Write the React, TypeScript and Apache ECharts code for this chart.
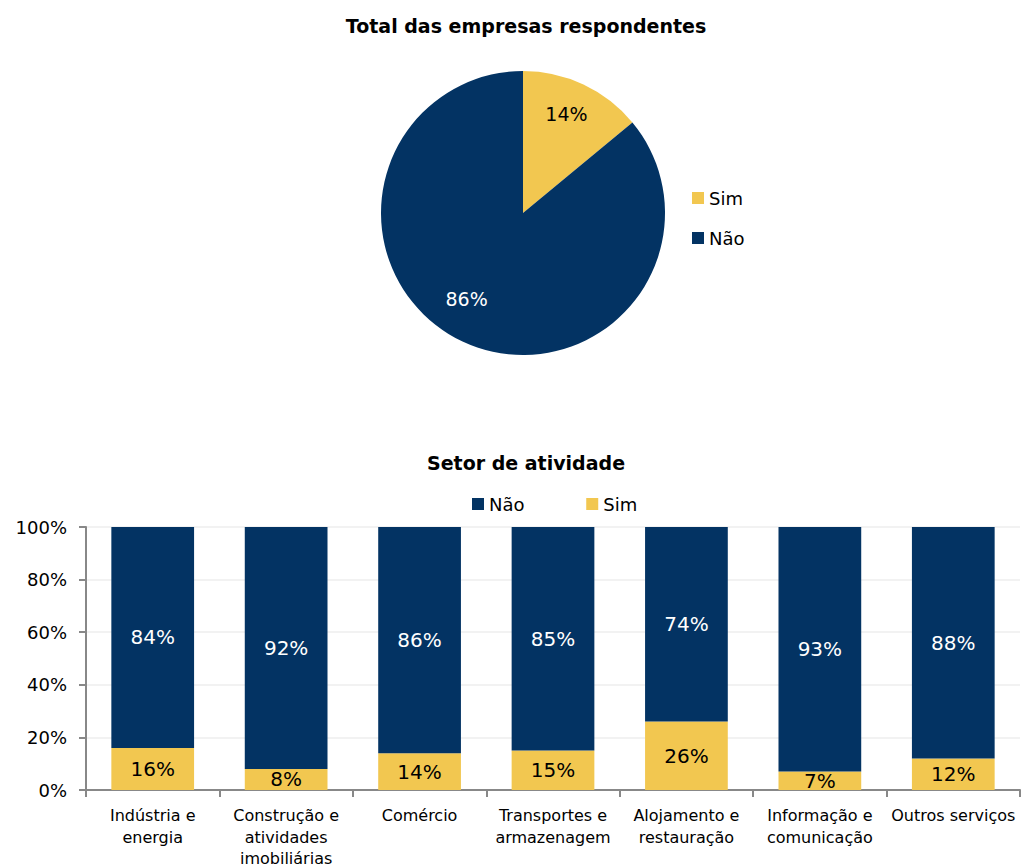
import React, { useEffect, useRef } from "react";
import * as echarts from "echarts";

const pieLabels = ["Sim", "Não"];
const pieValues = [14, 86];

const categories = [
  "Indústria e\nenergia",
  "Construção e\natividades\nimobiliárias",
  "Comércio",
  "Transportes e\narmazenagem",
  "Alojamento e\nrestauração",
  "Informação e\ncomunicação",
  "Outros serviços",
];
const simValues = [16, 8, 14, 15, 26, 7, 12];
const naoValues = [84, 92, 86, 85, 74, 93, 88];
const yTicks = [0, 20, 40, 60, 80, 100];

const NAVY = "#033363";
const YELLOW = "#F2C750";
const FONT = "DejaVu Sans";

export default function App() {
  const ref = useRef<HTMLDivElement>(null);
  useEffect(() => {
    document.body.style.margin = "0";
    const chart = echarts.init(ref.current!, null, { renderer: "svg" });
    const pieData = pieLabels.map((n, i) => ({
      name: n,
      value: pieValues[i],
      itemStyle: { color: i === 0 ? YELLOW : NAVY },
    }));
    chart.setOption({
      animation: false,
      textStyle: { fontFamily: FONT },
      title: [
        {
          text: "Total das empresas respondentes",
          left: 521,
          top: 11,
          textAlign: "center",
          textStyle: { fontSize: 19, fontWeight: "bold", color: "#000", fontFamily: FONT },
        },
        {
          text: "Setor de atividade",
          left: 521,
          top: 448,
          textAlign: "center",
          textStyle: { fontSize: 19, fontWeight: "bold", color: "#000", fontFamily: FONT },
        },
      ],
      legend: [
        {
          data: ["Sim", "Não"],
          orient: "vertical",
          left: 687,
          top: 184,
          itemWidth: 12,
          itemHeight: 12,
          itemGap: 22,
          icon: "rect",
          textStyle: { fontSize: 18, color: "#000", fontFamily: FONT },
        },
        {
          data: ["Não ", "Sim "],
          left: 467,
          top: 490,
          itemWidth: 12,
          itemHeight: 12,
          itemGap: 56,
          icon: "rect",
          textStyle: { fontSize: 18, color: "#000", fontFamily: FONT },
        },
      ],
      grid: { left: 86, right: 4, top: 527, bottom: 77, outerBoundsMode: "none" },
      xAxis: {
        type: "category",
        data: categories,
        axisLine: { lineStyle: { color: "#888", width: 2 } },
        axisTick: { show: true, alignWithLabel: false, length: 7, lineStyle: { color: "#888", width: 2 } },
        axisLabel: { fontSize: 16, color: "#000", lineHeight: 21.5, margin: 15, interval: 0, fontFamily: FONT },
      },
      yAxis: {
        type: "value",
        min: 0,
        max: 100,
        interval: 20,
        axisLine: { show: true, lineStyle: { color: "#888", width: 2 } },
        axisTick: { show: true, inside: false, length: 7, lineStyle: { color: "#888", width: 2 } },
        splitLine: { lineStyle: { color: "#eeeeee", width: 1.5 } },
        axisLabel: {
          fontSize: 18,
          color: "#000",
          margin: 19,
          fontFamily: FONT,
          formatter: (v: number) => (yTicks.includes(v) ? v + "%" : ""),
        },
      },
      series: [
        {
          type: "pie",
          center: [523, 213],
          radius: 142,
          startAngle: 90,
          clockwise: true,
          data: pieData,
          label: { show: false },
          labelLine: { show: false },
          itemStyle: { borderWidth: 0 },
          emphasis: { disabled: true },
          silent: true,
        },
        {
          type: "pie",
          center: [523, 213],
          radius: [70, 142],
          startAngle: 90,
          clockwise: true,
          data: pieLabels.map((n, i) => ({
            name: n + "_label",
            value: pieValues[i],
            label: i === 0 ? { color: "#000", offset: [-3, 0] } : { color: "#fff", offset: [-10, -13] },
          })),
          itemStyle: { color: "rgba(0,0,0,0)", borderWidth: 0 },
          label: {
            show: true,
            position: "inside",
            formatter: "{c}%",
            fontSize: 19,
            fontFamily: FONT,
          },
          labelLine: { show: false },
          emphasis: { disabled: true },
          silent: true,
        },
        {
          name: "Sim ",
          type: "bar",
          stack: "s",
          data: simValues,
          barWidth: "62%",
          itemStyle: { color: YELLOW },
          label: {
            show: true,
            position: "inside",
            formatter: "{c}%",
            fontSize: 20,
            color: "#000",
            fontFamily: FONT,
          },
        },
        {
          name: "Não ",
          type: "bar",
          stack: "s",
          data: naoValues,
          barWidth: "62%",
          itemStyle: { color: NAVY },
          label: {
            show: true,
            position: "inside",
            formatter: "{c}%",
            fontSize: 20,
            color: "#fff",
            fontFamily: FONT,
          },
        },
      ],
    });
    return () => chart.dispose();
  }, []);
  return <div ref={ref} style={{ width: 1024, height: 867 }} />;
}
